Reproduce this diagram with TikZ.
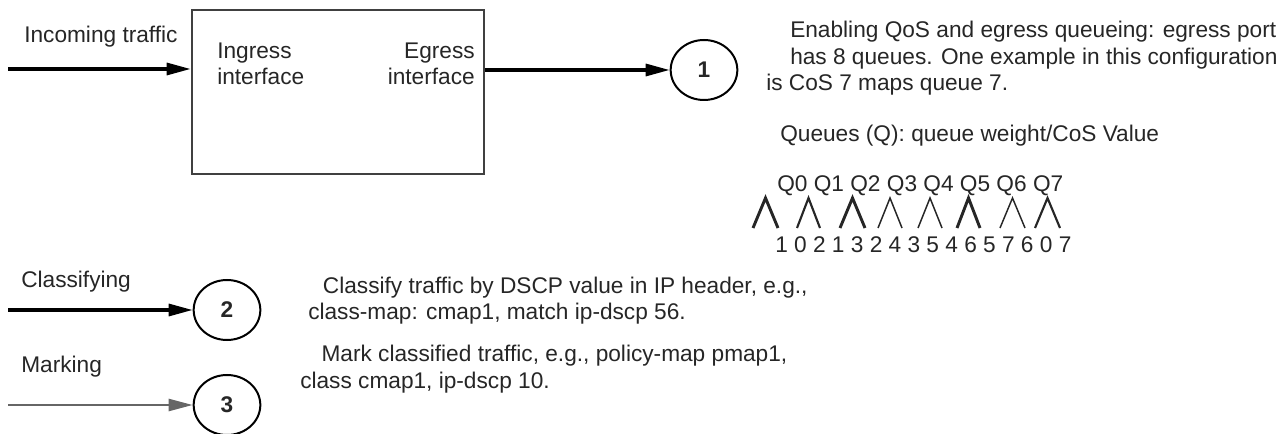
\documentclass[tikz,border=0pt]{standalone}
\usepackage{fontspec}
\setmainfont{Liberation Sans}
\usetikzlibrary{arrows.meta,shapes.geometric}

\begin{document}
\begin{tikzpicture}[x=0.75pt,y=-0.75pt,
  every node/.style={font=\fontsize{17}{20}\selectfont, text=black!85},
  txt/.style={inner sep=0pt, anchor=base west, align=left},
  numcirc/.style={draw, ellipse, line width=1.5pt, minimum width=50pt,
    minimum height=45pt, inner sep=0pt, font=\fontsize{17}{20}\selectfont\bfseries},
  flow/.style={line width=2.4pt, -{Triangle[length=18pt,width=9pt]}},
  ]
  \useasboundingbox (0,0) rectangle (1288,434);

  \node[draw=black!75, line width=2pt, minimum width=219pt, minimum height=123pt,
    inner sep=0pt] (box) at (338,92) {};
  \node[txt] (ingress) at (217,85) {Ingress\\interface};
  \node[txt, anchor=base east, align=right] (egress) at (475,85) {Egress\\interface};

  \node[txt] (inlbl) at (24,43) {Incoming traffic};
  \coordinate (inA) at (8,69);
  \draw[flow] (inA) -- (inA -| box.west);

  \node[numcirc] (c1) at (704,70) {1};
  \draw[flow] (box.east |- c1) -- (c1);

  \node[txt] (qosnote) at (766,91) {\hspace*{18pt}Enabling QoS and egress queueing: egress port\\
    \hspace*{18pt}has 8 queues. One example in this configuration\\
    is CoS 7 maps queue 7.};
  \node[txt] (qtitle) at (780,142) {Queues (Q): queue weight/CoS Value};
  \node[txt] (qrow) at (777,192) {Q0 Q1 Q2 Q3 Q4 Q5 Q6 Q7};
  \foreach \l/\r/\w in {753/778/2.2, 797/820/1.6, 840/865/2.2, 878/902/1.1,
      918/942/1.1, 957/980/2.2, 1000/1025/1.1, 1035/1060/1.6}
    \draw[line width=\w pt, black!85] (\l,228) -- ({(\l+\r)/2},198) -- (\r,228);
  \node[txt] (cosrow) at (775,253) {1 0 2 1 3 2 4 3 5 4 6 5 7 6 0 7};

  \node[txt] (clslbl) at (21,288) {Classifying};
  \node[numcirc] (c2) at (227,310) {2};
  \coordinate (clsA) at (8,310);
  \draw[flow] (clsA) -- (c2);
  \node[txt] (clsnote) at (308,320) {\hspace*{11pt}Classify traffic by DSCP value in IP header, e.g.,\\
    class-map: cmap1, match ip-dscp 56.};

  \node[txt] (mrklbl) at (21,373) {Marking};
  \node[numcirc] (c3) at (227,405) {3};
  \coordinate (mrkA) at (8,405);
  \draw[flow, line width=1.8pt, black!60] (mrkA) -- (c3);
  \node[txt] (mrknote) at (300,388) {\hspace*{16pt}Mark classified traffic, e.g., policy-map pmap1,\\
    class cmap1, ip-dscp 10.};

\end{tikzpicture}
\end{document}
